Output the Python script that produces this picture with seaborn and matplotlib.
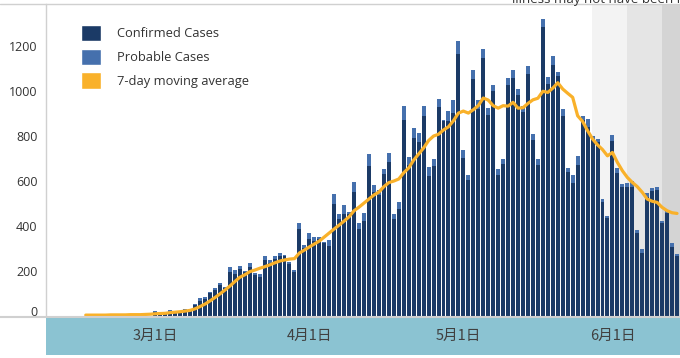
import matplotlib
matplotlib.use("Agg")
import matplotlib.pyplot as plt
import seaborn as sns
import numpy as np
import pandas as pd
from matplotlib.patches import Patch, Rectangle
from matplotlib.lines import Line2D
from matplotlib.transforms import ScaledTranslation

# daily cases, 2020-03-01 .. 2020-06-14
start_date = "2020-03-01"
total_cases = [
    22, 12, 13, 27, 20, 24, 30, 32, 53, 81,
    84, 107, 126, 147, 129, 218, 205, 222, 200, 236,
    193, 187, 267, 249, 267, 280, 271, 240, 204, 413,
    316, 369, 351, 351, 329, 338, 542, 453, 493, 462,
    596, 413, 458, 720, 582, 560, 653, 724, 453, 507,
    933, 707, 836, 813, 933, 662, 698, 964, 871, 911,
    960, 1222, 738, 627, 1093, 960, 1187, 924, 1027, 653,
    698, 1058, 1093, 1009, 933, 1111, 809, 698, 1320, 1062,
    1156, 1084, 920, 658, 627, 711, 889, 876, 800, 787,
    520, 444, 804, 658, 587, 591, 600, 382, 298, 547,
    569, 573, 422, 471, 324, 276,
]
confirmed_cases = [
    16, 10, 11, 20, 17, 20, 26, 28, 47, 68,
    75, 101, 116, 138, 124, 197, 187, 209, 196, 218,
    184, 175, 249, 236, 253, 267, 267, 231, 196, 387,
    302, 342, 333, 342, 324, 311, 498, 431, 453, 453,
    551, 387, 422, 667, 551, 538, 631, 684, 431, 476,
    871, 671, 791, 773, 889, 622, 667, 929, 865, 867,
    902, 1164, 702, 604, 1053, 920, 1147, 893, 1000, 627,
    676, 1027, 1058, 982, 907, 1076, 782, 671, 1284, 1031,
    1116, 1067, 889, 640, 591, 671, 871, 840, 782, 773,
    507, 436, 778, 636, 573, 573, 573, 369, 280, 529,
    556, 560, 413, 458, 307, 265,
]

# 7-day moving average, 2020-02-16 .. 2020-06-14
ma_start_date = "2020-02-16"
moving_avg = [
    4, 4, 4, 4, 4, 5, 5, 5, 5, 6, 6, 6, 7, 8,
    10, 11, 12, 15, 17, 19, 22, 25, 32, 42,
    53, 67, 82, 98, 115, 133, 153, 172, 183, 197,
    204, 212, 219, 227, 236, 244, 249, 253, 255, 280,
    293, 307, 320, 333, 351, 369, 387, 404, 422, 441,
    468, 484, 502, 520, 538, 551, 575, 593, 600, 609,
    637, 658, 693, 720, 747, 780, 800, 808, 827, 841,
    868, 902, 911, 902, 917, 935, 969, 960, 935, 924,
    935, 933, 950, 924, 926, 945, 961, 968, 999, 994,
    1013, 1037, 1009, 990, 972, 890, 865, 824, 787, 761,
    740, 712, 727, 683, 646, 616, 594, 575, 550, 520,
    510, 505, 483, 468, 459, 456,
]

month_ticks = ["2020-03-01", "2020-04-01", "2020-05-01", "2020-06-01"]
month_labels = ["3月1日", "4月1日", "5月1日", "6月1日"]
y_ticks = [0, 200, 400, 600, 800, 1000, 1200]

# shaded "recent" periods (light -> dark)
shade_edges = ["2020-05-28", "2020-06-04", "2020-06-11"]
shade_colors = ["#f3f3f3", "#e5e5e5", "#d4d4d4"]

C_CONF = "#1b3a66"
C_PROB = "#4570ad"
C_MA = "#f9b12a"
C_BAND = "#8bc3d2"
C_GRID = "#d0d0d0"

t0 = pd.Timestamp(start_date)
def day_num(d):
    return (pd.Timestamp(d) - t0).days

days = np.arange(len(total_cases))
ma_days = np.arange(len(moving_avg)) + day_num(ma_start_date)

sns.set_style("white")
plt.rcParams["font.family"] = ["Open Sans", "Noto Sans CJK JP", "DejaVu Sans"]

W, H = 680, 358
fig = plt.figure(figsize=(W / 100, H / 100), dpi=100)
ax = fig.add_axes([46 / W, (H - 316) / H, 634 / W, 312 / H])

x_lo, x_hi = -22.0, 105.6
for i, edge in enumerate(shade_edges):
    left = day_num(edge) - 0.1
    right = day_num(shade_edges[i + 1]) - 0.1 if i + 1 < len(shade_edges) else x_hi + 1
    ax.axvspan(left, right, color=shade_colors[i], lw=0, zorder=0)

df = pd.DataFrame({"day": days, "total": total_cases, "confirmed": confirmed_cases})
sns.barplot(data=df, x="day", y="total", native_scale=True, color=C_PROB,
            saturation=1, width=0.8, errorbar=None, ax=ax, zorder=2,
            edgecolor="none", linewidth=0)
sns.barplot(data=df, x="day", y="confirmed", native_scale=True, color=C_CONF,
            saturation=1, width=0.8, errorbar=None, ax=ax, zorder=3,
            edgecolor="none", linewidth=0)
sns.lineplot(x=ma_days, y=moving_avg, color=C_MA, linewidth=2.3, ax=ax, zorder=4)

ax.set_xlim(x_lo, x_hi)
ax.set_ylim(0, 1387)
ax.set_xlabel("")
ax.set_ylabel("")

ax.set_yticks(y_ticks)
ax.set_yticklabels([str(v) for v in y_ticks])
ax.tick_params(axis="y", length=0, pad=6, labelsize=9, labelcolor="#333333")
# the zero label sits a little higher in the original
zero_lbl = ax.get_yticklabels()[0]
zero_lbl.set_transform(zero_lbl.get_transform() + ScaledTranslation(0, 5 / 100, fig.dpi_scale_trans))

ax.set_xticks([day_num(d) for d in month_ticks])
ax.set_xticklabels(month_labels)
ax.tick_params(axis="x", length=3, width=1, color="white", direction="out", pad=6,
               labelsize=10.5, labelcolor="#404040")
for lbl in ax.get_xticklabels():
    lbl.set_fontfamily(["Noto Sans CJK JP"])

for s in ["top", "right", "bottom"]:
    ax.spines[s].set_visible(False)
ax.spines["left"].set_color(C_GRID)
ax.spines["left"].set_linewidth(1.0)

# bottom band holding the date labels
fig.patches.append(Rectangle((46 / W, 3 / H), 634 / W, 39 / H, transform=fig.transFigure,
                             facecolor=C_BAND, edgecolor="none", zorder=-1))
# horizontal rules across the full width
fig.add_artist(Line2D([0, 1], [1 - 4 / H] * 2, color=C_GRID, lw=1.0))
fig.add_artist(Line2D([0, 1], [1 - 316.5 / H] * 2, color=C_GRID, lw=1.5))

# note clipped by the top edge, as in the original
fig.text(512 / W, 1 - 3.0 / H, "illness may not have been reported yet", fontsize=9.5,
         color="#333333", va="baseline", ha="left")

handles = [Patch(facecolor=C_CONF), Patch(facecolor=C_PROB), Patch(facecolor=C_MA)]
ax.legend(handles, ["Confirmed Cases", "Probable Cases", "7-day moving average"],
          loc="upper left", bbox_to_anchor=(81 / W, 1 - 25 / H), bbox_transform=fig.transFigure,
          frameon=False, fontsize=9.3, handlelength=1.55, handleheight=1.55,
          handletextpad=1.25, labelspacing=0.58, borderpad=0, borderaxespad=0,
          labelcolor="#333333")

fig.savefig("out.png", dpi=100)
